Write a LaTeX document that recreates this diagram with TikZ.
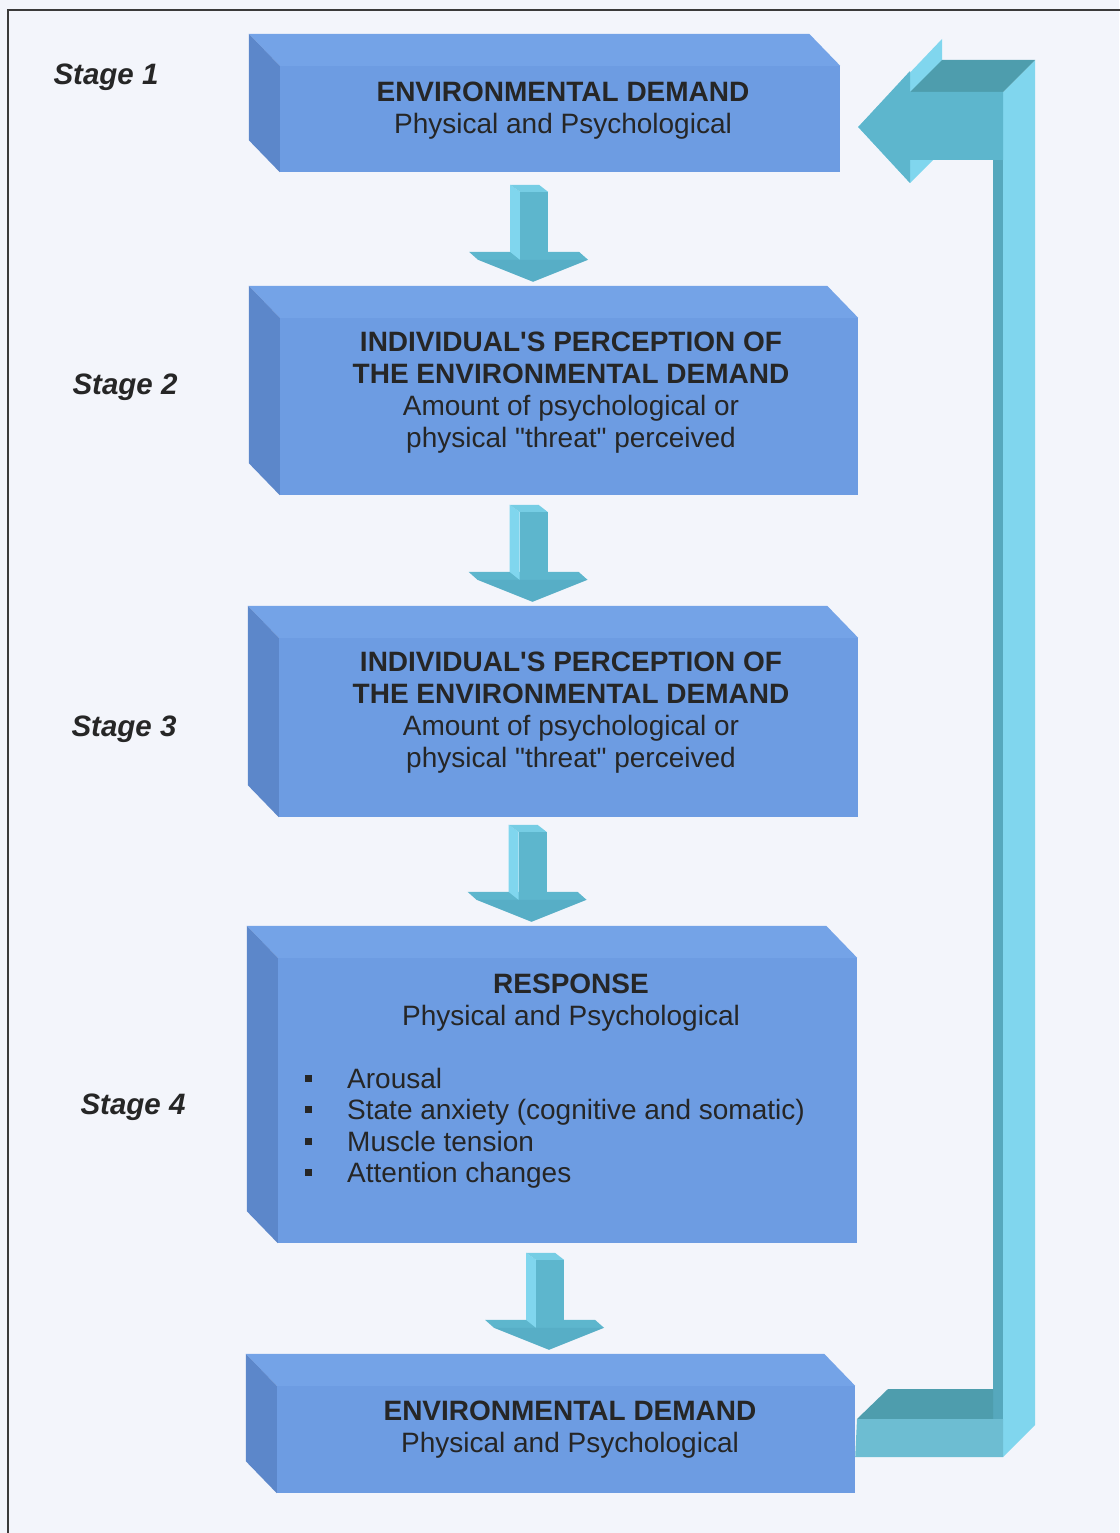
\documentclass[tikz,border=0pt]{standalone}
\usepackage{fontspec}
\setmainfont{Liberation Sans}[Ligatures=TeXOff]
\usetikzlibrary{calc}

\definecolor{bg}{HTML}{F3F5FB}
\definecolor{frameline}{HTML}{3A3A3A}
\definecolor{boxfront}{HTML}{6D9CE2}
\definecolor{boxtop}{HTML}{74A3E7}
\definecolor{boxside}{HTML}{5C87CA}
\definecolor{arrmid}{HTML}{5DB6CD}
\definecolor{arrhead}{HTML}{57AEC6}
\definecolor{arrlight}{HTML}{80D6EE}
\definecolor{arrdark}{HTML}{4E9DAD}
\definecolor{ink}{HTML}{262626}

\tikzset{
  front/.style={fill=boxfront, draw=none, inner sep=0pt},
  stagelbl/.style={font=\fontsize{29.5}{32}\selectfont\bfseries\itshape, text=ink, inner sep=0pt},
  boxtext/.style={font=\fontsize{28}{32}\selectfont, text=ink, align=center, inner sep=0pt},
  listtext/.style={font=\fontsize{28}{31.5}\selectfont, text=ink, align=left, inner sep=0pt},
  % 3D block arrow pointing down; origin at the tip
  pics/downarr/.style={code={
    \fill[arrmid] (-62,-30) -- (48,-30) -- (57,-22) -- (-53,-22) -- cycle;
    \fill[arrlight] (-21,-97) -- (-11,-90) -- (-11,-22) -- (-21,-30) -- cycle;
    \fill[arrlight!70!arrmid] (-21,-97) -- (8,-97) -- (17,-90) -- (-11,-90) -- cycle;
    \fill[arrmid] (-11,-90) rectangle (17,-22);
    \fill[arrhead] (-53,-22) -- (57,-22) -- (2,0) -- cycle;
  }}
}

% top and left faces of a block whose front face is node #1
\newcommand\drawslab[1]{%
  \fill[boxtop] (#1.north west) -- ++(-31,-32) -- ($(#1.north east)+(-31,-32)$) -- (#1.north east) -- cycle;
  \fill[boxside] (#1.north west) -- ++(-31,-32) -- ($(#1.south west)+(-31,-32)$) -- (#1.south west) -- cycle;
}
\newcommand\sqbullet{\makebox[42pt][l]{\rule[6.5pt]{7pt}{7pt}}}

\begin{document}
\begin{tikzpicture}[x=1pt,y=-1pt]
  \useasboundingbox (0,0) rectangle (1119,1533);
  \fill[bg] (0,0) rectangle (1119,1533);
  \draw[frameline, line width=1.5pt] (8,1540) -- (8,10) -- (1125,10);

  % front faces of the five blocks
  \node[front, minimum width=560pt, minimum height=106pt] (b1) at (560,119) {};
  \node[front, minimum width=578pt, minimum height=177pt] (b2) at (569,406.5) {};
  \node[front, minimum width=579pt, minimum height=179pt] (b3) at (568.5,727.5) {};
  \node[front, minimum width=579pt, minimum height=285pt] (b4) at (567.5,1100.5) {};
  \node[front, minimum width=578pt, minimum height=107pt] (b5) at (566,1439.5) {};
  \drawslab{b1}
  \drawslab{b2}
  \drawslab{b3}
  \drawslab{b4}
  \drawslab{b5}

  % block texts
  \node[boxtext] (t1) at ($(b1.center)+(3,-8)$)
    {\textbf{ENVIRONMENTAL DEMAND}\\Physical and Psychological};
  \node[boxtext] (t2) at ($(b2.center)+(2,-14)$)
    {\textbf{INDIVIDUAL'S PERCEPTION OF}\\\textbf{THE ENVIRONMENTAL DEMAND}\\Amount of psychological or\\physical "threat" perceived};
  \node[boxtext] (t3) at ($(b3.center)+(2.5,-15)$)
    {\textbf{INDIVIDUAL'S PERCEPTION OF}\\\textbf{THE ENVIRONMENTAL DEMAND}\\Amount of psychological or\\physical "threat" perceived};
  \node[boxtext] (t4) at (571,1003)
    {\textbf{RESPONSE}\\Physical and Psychological};
  \node[listtext, anchor=west] (t4list) at (305,1128)
    {\sqbullet Arousal\\\sqbullet State anxiety (cognitive and somatic)\\\sqbullet Muscle tension\\\sqbullet Attention changes};
  \node[boxtext] (t5) at ($(b5.center)+(4,-10)$)
    {\textbf{ENVIRONMENTAL DEMAND}\\Physical and Psychological};

  % stage labels
  \node[stagelbl] (s1) at (106,77) {Stage 1};
  \node[stagelbl] (s2) at (125,387) {Stage 2};
  \node[stagelbl] (s3) at (124,729) {Stage 3};
  \node[stagelbl] (s4) at (133,1107) {Stage 4};

  % arrows between consecutive blocks
  \pic at ($(b2.north)+(-38,-36)$) {downarr};
  \pic at ($(b3.north)+(-38,-36)$) {downarr};
  \pic at ($(b4.north)+(-38,-36)$) {downarr};
  \pic at ($(b5.north)+(-19,-36)$) {downarr};

  % feedback arrow from the last block back to the first
  \coordinate (fbtip) at ($(b1.east)+(18,8)$);
  \coordinate (fbfoot) at ($(b5.south east)+(0,-36)$);
  \fill[arrlight] (fbtip) -- (942,39) -- (942,151) -- (910,183) -- cycle;
  \fill[arrmid!92!black] (993,92) rectangle (1003,1457);
  \fill[arrlight] (1003,92) -- (1035,60) -- (1035,1425) -- (1003,1457) -- cycle;
  \fill[arrdark] (910,92) -- (942,60) -- (1035,60) -- (1003,92) -- cycle;
  \fill[arrmid] (fbtip) -- (910,71) -- (910,92) -- (1003,92) -- (1003,160)
    -- (910,160) -- (910,183) -- cycle;
  \fill[arrdark] (857,1419) -- (888,1389) -- (993,1389) -- (993,1419) -- cycle;
  \fill[arrmid!90!white] (fbfoot) -- (1003,1457) -- (1003,1419) -- (857,1419) -- cycle;
\end{tikzpicture}
\end{document}
